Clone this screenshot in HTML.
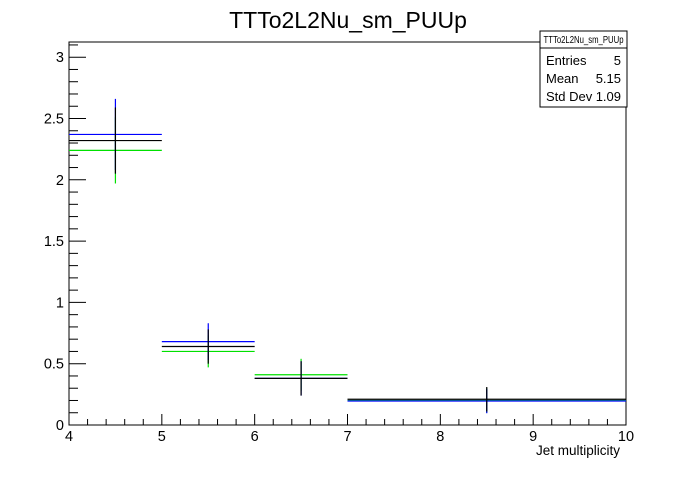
<!DOCTYPE html>
<html><head><meta charset="utf-8"><style>
body{margin:0;background:#fff;width:696px;height:472px;overflow:hidden;font-family:"Liberation Sans",sans-serif}
text{font-family:"Liberation Sans",sans-serif}
</style></head><body>
<svg id="c" width="696" height="472">
<rect width="696" height="472" fill="#fff"/>
<text x="348" y="28" font-size="23" text-anchor="middle">TTTo2L2Nu_sm_PUUp</text>
<rect x="69" y="42" width="557" height="383" fill="none" stroke="#000"/>
<g id="axes"></g><g id="marks"></g>
<text x="620" y="455" font-size="13.5" text-anchor="end">Jet multiplicity</text>
<g>
<rect x="540" y="31" width="87" height="76" fill="#fff" stroke="#000"/>
<line x1="540" y1="48" x2="627" y2="48" stroke="#000"/>
<text x="583.5" y="43" font-size="10" text-anchor="middle" textLength="80" lengthAdjust="spacingAndGlyphs">TTTo2L2Nu_sm_PUUp</text>
<text x="546" y="65" font-size="13">Entries</text><text x="621" y="65" font-size="13" text-anchor="end">5</text>
<text x="546" y="83" font-size="13">Mean</text><text x="621" y="83" font-size="13" text-anchor="end">5.15</text>
<text x="546" y="101" font-size="13">Std Dev</text><text x="621" y="101" font-size="13" text-anchor="end">1.09</text>
</g>
</svg>
<script>
const binLo=[4,5,6,7];
const binHi=[5,6,7,10];
const blueVals=[2.37,0.68,0.38,0.196];
const blueErr=[0.29,0.15,0.14,0.1];
const blackVals=[2.32,0.64,0.38,0.21];
const blackErr=[0.27,0.14,0.14,0.1];
const greenVals=[2.24,0.60,0.41,0.20];
const greenErr=[0.27,0.13,0.13,0.1];
const xTicks=[4,5,6,7,8,9,10];
const yTicks=[0,0.5,1,1.5,2,2.5,3];
const X=v=>69+(v-4)*(557/6);
const Y=v=>425-v*122.6;
const NS="http://www.w3.org/2000/svg";
function mk(p,tag,a){const e=document.createElementNS(NS,tag);for(const k in a)e.setAttribute(k,a[k]);p.appendChild(e);return e;}
const ax=document.getElementById('axes');
xTicks.forEach(t=>{
 const l=mk(ax,'line',{x1:X(t),x2:X(t),y1:425,y2:414,stroke:'#000'});
 
 
 const tx=mk(ax,'text',{x:X(t),y:441,'font-size':14.5,'text-anchor':'middle'});tx.textContent=t;
 
 
 if(t<10)for(let i=1;i<5;i++)mk(ax,'line',{x1:X(t+i*0.2),x2:X(t+i*0.2),y1:425,y2:419,stroke:'#000'});
});
yTicks.forEach(t=>{
 const l=mk(ax,'line',{x1:69,x2:86,y1:Y(t),y2:Y(t),stroke:'#000'});
 
 
 const tx=mk(ax,'text',{x:64,y:Y(t)+5,'font-size':14.5,'text-anchor':'end'});tx.textContent=t;
 
 
 for(let i=1;i<5;i++){const v=t+i*0.1;if(v<3.12)mk(ax,'line',{x1:69,x2:78,y1:Y(v),y2:Y(v),stroke:'#000'});}
});
const mg=document.getElementById('marks');
function series(vals,errs,col,name){
 vals.forEach((v,i)=>{
  const g=mk(mg,'g',{stroke:col,'stroke-width':1.2});
  
  
  mk(g,'line',{x1:X(binLo[i]),x2:X(binHi[i]),y1:Y(v),y2:Y(v)});
  const xc=X((binLo[i]+binHi[i])/2);
  mk(g,'line',{x1:xc,x2:xc,y1:Y(v-errs[i]),y2:Y(v+errs[i])});
 });
}
series(greenVals,greenErr,'#00e000','green-series');
series(blueVals,blueErr,'#0000ff','blue-series');
series(blackVals,blackErr,'#000','black-series');
</script>
</body></html>
